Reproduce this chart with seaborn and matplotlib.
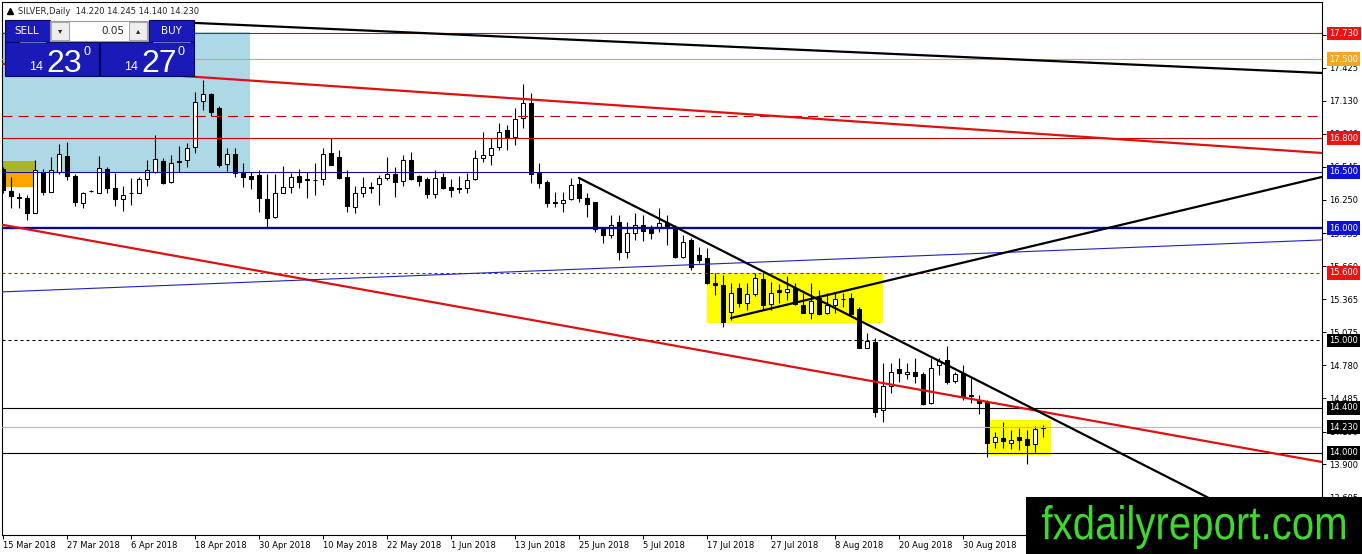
import numpy as np
import pandas as pd
import seaborn as sns
import matplotlib
matplotlib.use("Agg")
from matplotlib import pyplot as plt
from matplotlib.patches import Rectangle, PathPatch
from matplotlib.textpath import TextPath
from matplotlib.font_manager import FontProperties
import matplotlib.transforms as mtransforms

sns.set_style("white")
plt.rcParams['font.family'] = ['DejaVu Sans']

# daily candles, 15 Mar 2018 .. 12 Sep 2018
opens = [16.525, 16.329, 16.276, 16.267, 16.134, 16.498, 16.320, 16.498, 16.640, 16.463,
         16.223, 16.329, 16.311, 16.525, 16.356, 16.258, 16.311, 16.311, 16.436, 16.498,
         16.596, 16.409, 16.596, 16.605, 16.720, 17.129, 17.191, 17.067, 16.569, 16.658,
         16.489, 16.463, 16.471, 16.258, 16.098, 16.311, 16.365, 16.463, 16.436, 16.427,
         16.436, 16.667, 16.631, 16.454, 16.187, 16.311, 16.365, 16.391, 16.445, 16.480,
         16.418, 16.605, 16.463, 16.436, 16.303, 16.454, 16.365, 16.356, 16.356, 16.436,
         16.623, 16.649, 16.720, 16.871, 16.809, 16.978, 17.111, 16.489, 16.409, 16.231,
         16.223, 16.258, 16.391, 16.267, 16.231, 16.000, 15.938, 16.054, 15.787, 15.956,
         16.027, 16.000, 16.009, 16.045, 16.009, 15.743, 15.894, 15.760, 15.734, 15.511,
         15.494, 15.254, 15.467, 15.334, 15.414, 15.547, 15.325, 15.449, 15.431, 15.467,
         15.316, 15.245, 15.378, 15.245, 15.316, 15.369, 15.378, 15.280, 14.934, 14.987,
         14.383, 14.596, 14.747, 14.703, 14.720, 14.703, 14.445, 14.783, 14.827, 14.640,
         14.711, 14.516, 14.463, 14.454, 14.098, 14.134, 14.089, 14.143, 14.125, 14.080,
         14.220]
highs = [16.543, 16.454, 16.311, 16.294, 16.605, 16.525, 16.631, 16.747, 16.765, 16.480,
         16.320, 16.338, 16.640, 16.543, 16.489, 16.374, 16.445, 16.454, 16.605, 16.827,
         16.623, 16.649, 16.729, 16.756, 17.209, 17.316, 17.200, 17.085, 16.711, 16.711,
         16.578, 16.498, 16.516, 16.480, 16.480, 16.551, 16.489, 16.525, 16.498, 16.578,
         16.711, 16.800, 16.694, 16.516, 16.374, 16.454, 16.409, 16.471, 16.631, 16.543,
         16.649, 16.676, 16.471, 16.454, 16.516, 16.489, 16.436, 16.463, 16.489, 16.694,
         16.854, 16.800, 16.934, 16.916, 17.067, 17.280, 17.200, 16.578, 16.427, 16.320,
         16.320, 16.445, 16.445, 16.311, 16.231, 16.009, 16.116, 16.116, 16.054, 16.134,
         16.116, 16.027, 16.178, 16.116, 16.027, 15.938, 15.911, 15.831, 15.823, 15.600,
         15.583, 15.511, 15.511, 15.511, 15.600, 15.600, 15.520, 15.503, 15.574, 15.511,
         15.423, 15.511, 15.449, 15.423, 15.423, 15.423, 15.423, 15.298, 15.067, 15.023,
         14.800, 14.800, 14.845, 14.800, 14.845, 14.720, 14.845, 14.845, 14.951, 14.720,
         14.783, 14.667, 14.516, 14.471, 14.187, 14.276, 14.205, 14.223, 14.205, 14.240,
         14.245]
lows = [16.311, 16.178, 16.178, 16.071, 16.134, 16.294, 16.320, 16.480, 16.427, 16.196,
        16.178, 16.320, 16.311, 16.311, 16.196, 16.151, 16.205, 16.311, 16.374, 16.489,
        16.391, 16.400, 16.498, 16.543, 16.667, 17.049, 16.996, 16.543, 16.507, 16.454,
        16.365, 16.347, 16.143, 16.009, 16.089, 16.311, 16.311, 16.356, 16.267, 16.294,
        16.383, 16.560, 16.436, 16.143, 16.134, 16.276, 16.311, 16.205, 16.427, 16.276,
        16.374, 16.427, 16.374, 16.267, 16.267, 16.347, 16.276, 16.311, 16.311, 16.427,
        16.587, 16.560, 16.694, 16.694, 16.738, 16.889, 16.400, 16.356, 16.187, 16.187,
        16.143, 16.249, 16.231, 16.098, 15.965, 15.867, 15.911, 15.716, 15.734, 15.894,
        15.885, 15.903, 15.965, 15.849, 15.734, 15.734, 15.627, 15.689, 15.503, 15.405,
        15.120, 15.183, 15.298, 15.271, 15.396, 15.271, 15.271, 15.334, 15.360, 15.316,
        15.245, 15.191, 15.227, 15.236, 15.245, 15.298, 15.227, 14.934, 14.934, 14.320,
        14.276, 14.534, 14.631, 14.658, 14.623, 14.427, 14.436, 14.694, 14.614, 14.623,
        14.471, 14.445, 14.347, 13.965, 14.045, 14.045, 14.036, 14.027, 13.898, 14.009,
        14.140]
closes = [16.338, 16.285, 16.270, 16.134, 16.516, 16.320, 16.516, 16.658, 16.463, 16.231,
          16.311, 16.330, 16.534, 16.356, 16.258, 16.294, 16.310, 16.436, 16.516, 16.614,
          16.400, 16.578, 16.590, 16.711, 17.120, 17.191, 17.031, 16.560, 16.658, 16.489,
          16.454, 16.436, 16.267, 16.089, 16.311, 16.365, 16.454, 16.409, 16.427, 16.430,
          16.658, 16.560, 16.445, 16.196, 16.311, 16.365, 16.360, 16.445, 16.480, 16.409,
          16.605, 16.436, 16.418, 16.303, 16.445, 16.356, 16.338, 16.350, 16.427, 16.623,
          16.649, 16.711, 16.854, 16.800, 16.969, 17.111, 16.480, 16.400, 16.223, 16.226,
          16.249, 16.383, 16.267, 16.214, 15.991, 15.938, 16.027, 15.787, 15.956, 16.027,
          15.974, 15.956, 16.045, 16.000, 15.743, 15.876, 15.654, 15.716, 15.511, 15.494,
          15.165, 15.423, 15.334, 15.414, 15.556, 15.316, 15.423, 15.431, 15.458, 15.325,
          15.245, 15.351, 15.236, 15.316, 15.369, 15.365, 15.236, 14.934, 14.996, 14.365,
          14.596, 14.720, 14.711, 14.720, 14.685, 14.436, 14.756, 14.818, 14.631, 14.703,
          14.498, 14.507, 14.445, 14.089, 14.143, 14.107, 14.116, 14.116, 14.071, 14.214,
          14.230]

date_labels = ["15 Mar 2018", "27 Mar 2018", "6 Apr 2018", "18 Apr 2018", "30 Apr 2018",
               "10 May 2018", "22 May 2018", "1 Jun 2018", "13 Jun 2018", "25 Jun 2018",
               "5 Jul 2018", "17 Jul 2018", "27 Jul 2018", "8 Aug 2018", "20 Aug 2018",
               "30 Aug 2018"]
price_ticks = [17.720, 17.425, 17.130, 16.840, 16.545, 16.250, 15.955, 15.660, 15.365,
               15.075, 14.780, 14.485, 14.190, 13.900, 13.605]

# horizontal levels
levels = [17.730, 17.500, 17.000, 16.800, 16.500, 16.000, 15.600, 15.000, 14.400, 14.230, 14.000]
level_tags = ["17.730", "17.500", "", "16.800", "16.500", "16.000", "15.600", "15.000",
              "14.400", "14.230", "14.000"]
level_style = [("#e00000", 0.8, "-", "#ee1111"),
               ("#f0a030", 0.8, "-", "#f5a623"),
               ("#c00000", 0.8, (0, (9, 5.5)), None),
               ("#d00000", 0.8, "-", "#ee1111"),
               ("#101098", 0.8, "-", "#1010dd"),
               ("#0a0a9a", 1.7, "-", "#1010dd"),
               ("#e00000", 0.8, (0, (2.7, 2.7)), "#ee1111"),
               ("#000000", 0.8, (0, (2.7, 2.7)), "#000000"),
               ("#000000", 0.8, "-", "#000000"),
               ("#b8b8b8", 0.8, "-", "#000000"),
               ("#000000", 0.8, "-", "#000000")]

# trendlines: (bar, price) end points
top_black = [(23.0, 17.826), (164.875, 17.378)]
top_red = [(-0.125, 17.460), (164.875, 16.667)]
low_red = [(-0.125, 16.029), (164.875, 13.920)]
blue_thin = [(-0.125, 15.432), (164.875, 15.894)]
fall_black = [(72.0, 16.445), (153.4, 13.503)]
rise_black = [(91.0, 15.200), (164.875, 16.454)]

# zones: (bar0, bar1, price0, price1)
zone_blue = (-0.125, 30.875, 16.500, 17.740)
zone_olive = (-0.125, 4.0, 16.510, 16.600)
zone_orange = (-0.125, 4.0, 16.365, 16.510)
zone_yellow1 = (88.0, 110.0, 15.156, 15.600)
zone_yellow2 = (123.1, 131.0, 13.982, 14.294)

W, H = 1362, 554
fig = plt.figure(figsize=(W / 100, H / 100), dpi=100)
fig.patch.set_facecolor("white")
ax = fig.add_axes([2 / W, 19 / H, 1320 / W, 533 / H])
ax.set_facecolor("white")

df = pd.DataFrame({"o": opens, "h": highs, "l": lows, "c": closes})
df["bar"] = np.arange(len(df))
up = df["c"] >= df["o"]

for (x0, x1, y0, y1), col, z in [(zone_blue, "#add8e6", 0.5), (zone_olive, "#a9b52a", 0.6),
                                 (zone_orange, "#ffa500", 0.6), (zone_yellow1, "#ffff00", 0.5),
                                 (zone_yellow2, "#ffff00", 0.5)]:
    ax.add_patch(Rectangle((x0, y0), x1 - x0, y1 - y0, fc=col, ec="none", zorder=z))

ax.vlines(df["bar"], df["l"], df["h"], color="black", lw=0.8, zorder=2)
ax.bar(df["bar"], (df["c"] - df["o"]).abs(), bottom=np.minimum(df["o"], df["c"]),
       width=0.6, color=np.where(up, "white", "black"), edgecolor="black",
       linewidth=0.75, zorder=2.1)

for lv, (col, lw, ls, _) in zip(levels, level_style):
    ax.axhline(lv, color=col, lw=lw, ls=ls, zorder=3)

for pts, col, lw in [(top_black, "black", 1.6), (top_red, "#e01010", 1.6),
                     (low_red, "#e01010", 1.6), (blue_thin, "#2020c0", 0.8),
                     (fall_black, "black", 1.6), (rise_black, "black", 1.6)]:
    sns.lineplot(x=[p[0] for p in pts], y=[p[1] for p in pts], ax=ax, color=col,
                 linewidth=lw, zorder=3.5, sort=False)

ax.set_xlim(-0.125, 164.875)
ax.set_ylim(13.271, 18.009)
ax.set_xlabel("")
ax.set_ylabel("")
ax.set_xticks(np.arange(len(date_labels)) * 8)
ax.set_xticklabels(date_labels, ha="left", fontsize=6)
ax.yaxis.tick_right()
ax.set_yticks(price_ticks)
ax.set_yticklabels([f"{v:.3f}" for v in price_ticks], fontsize=6)
ax.tick_params(axis="x", bottom=True, direction="out", length=3, width=0.7, pad=1.5, colors="black")
ax.tick_params(axis="y", right=True, left=False, direction="out", length=3, width=0.7, pad=2.2, colors="black")
for sp in ax.spines.values():
    sp.set_color("black")
    sp.set_linewidth(0.8)

tr = mtransforms.blended_transform_factory(ax.transAxes, ax.transData)
for lv, tag, (_, _, _, bc) in zip(levels, level_tags, level_style):
    if tag:
        ax.text(1 + 7 / 1320, lv, tag, transform=tr, ha="left", va="center", fontsize=6,
                color="white", zorder=6,
                bbox=dict(boxstyle="square,pad=0.28", fc=bc, ec="none"))

# overlay: title, one-click panel, watermark (pixel space)
ov = fig.add_axes([0, 0, 1, 1], zorder=10)
ov.set_xlim(0, W)
ov.set_ylim(H, 0)
ov.axis("off")

ov.plot([10], [11], marker="^", ms=4, color="black")
ov.text(18, 11, "SILVER,Daily  14.220 14.245 14.140 14.230", fontsize=6, va="center", ha="left")


def box(x, y, w, h, fc, ec, lw=0.8):
    ov.add_patch(Rectangle((x, y), w, h, fc=fc, ec=ec, lw=lw))


blue = "#1a1ab8"
edge = "#07075a"
box(5, 20, 45, 22, blue, edge)
box(5, 42, 94, 34, blue, edge)
box(149, 20, 45, 22, blue, edge)
box(100, 42, 94, 34, blue, edge)
box(50, 21, 98, 20, "white", "#9a9a9a")
box(51, 22, 18, 18, "#eeeeee", "#a8a8a8")
box(129, 22, 18, 18, "#eeeeee", "#a8a8a8")
ov.plot([20, 45], [42, 42], color="#8080e0", lw=0.6)
ov.plot([153, 190], [42, 42], color="#8080e0", lw=0.6)
ov.text(27, 31, "SELL", color="white", fontsize=7.5, ha="center", va="center")
ov.text(171, 31, "BUY", color="white", fontsize=7.5, ha="center", va="center")
ov.text(60, 31, "\u25be", fontsize=6, ha="center", va="center")
ov.text(138, 31, "\u25b4", fontsize=6, ha="center", va="center")
ov.text(124, 31, "0.05", fontsize=7.5, ha="right", va="center")
big = dict(color="white", family="Liberation Sans", va="baseline")
ov.text(43, 70, "14", fontsize=9, ha="right", **big)
ov.text(46, 72, "23", fontsize=23, ha="left", **big)
ov.text(83, 55, "0", fontsize=9, ha="left", **big)
ov.text(138, 70, "14", fontsize=9, ha="right", **big)
ov.text(141, 72, "27", fontsize=23, ha="left", **big)
ov.text(178, 55, "0", fontsize=9, ha="left", **big)

box(1026, 497, 336, 57, "black", "none", 0)
tp = TextPath((0, 0), "fxdailyreport.com", size=100, prop=FontProperties(family="Liberation Sans"))
ext = tp.get_extents()
x0, x1, ytop, ybot = 1042, 1345, 505, 549
tf = (mtransforms.Affine2D().translate(-ext.x0, -ext.y1)
      .scale((x1 - x0) / ext.width, -(ybot - ytop) / ext.height).translate(x0, ytop))
ov.add_patch(PathPatch(tf.transform_path(tp), fc="#3fd92b", ec="none"))

fig.savefig("out.png", dpi=100)
